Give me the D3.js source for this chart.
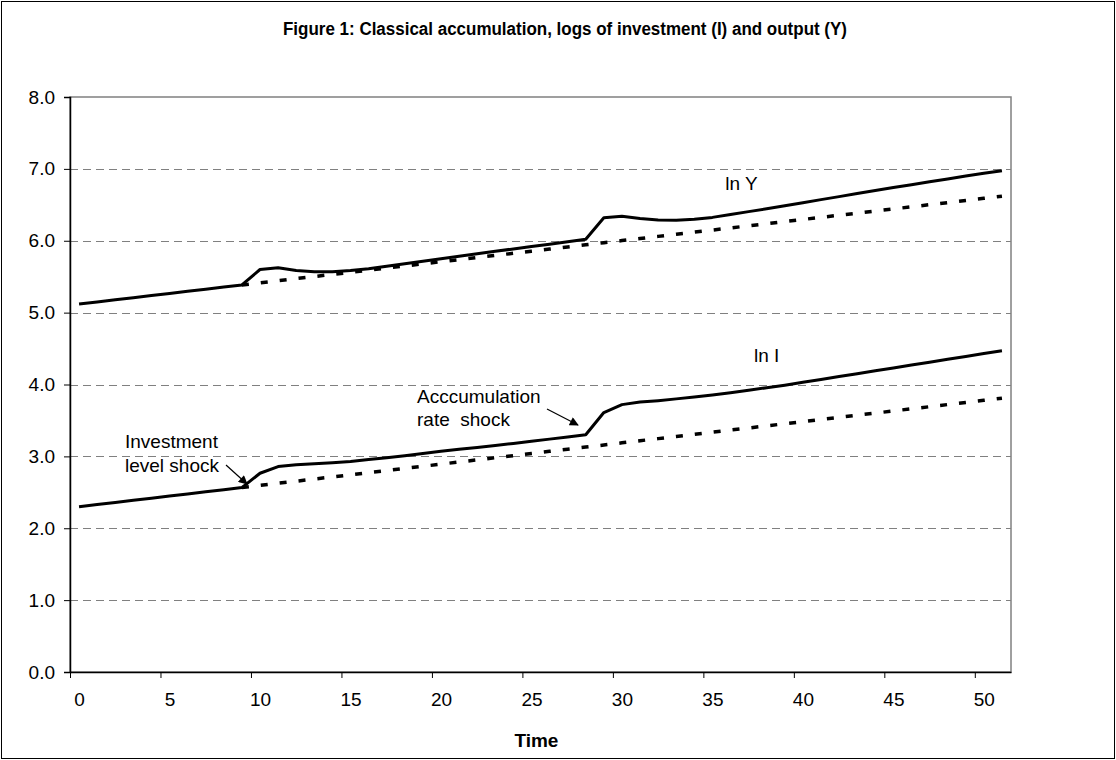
<!DOCTYPE html>
<html>
<head>
<meta charset="utf-8">
<script src="https://cdn.jsdelivr.net/npm/d3@7"></script>
<style>
  html, body { margin: 0; padding: 0; background: #fff; }
  svg { display: block; }
  text { font-family: "Liberation Sans", Arial, sans-serif; fill: #000; }
</style>
</head>
<body>
<svg id="chart" width="1116" height="760"></svg>
<script>
// ---- data ----
const time = [0,1,2,3,4,5,6,7,8,9,10,11,12,13,14,15,16,17,18,19,20,21,22,23,24,25,
              26,27,28,29,30,31,32,33,34,35,36,37,38,39,40,41,42,43,44,45,46,47,48,49,50,51];

const lnY = [5.120,5.149,5.179,5.208,5.238,5.267,5.296,5.326,5.355,5.385,
             5.600,5.625,5.585,5.570,5.568,5.585,5.612,5.645,5.680,5.715,
             5.750,5.785,5.820,5.853,5.886,5.919,5.952,5.985,6.020,6.320,
             6.340,6.310,6.288,6.285,6.298,6.325,6.365,6.405,6.445,6.487,
             6.530,6.572,6.614,6.656,6.698,6.740,6.780,6.820,6.860,6.900,
             6.940,6.975];

const lnYbase = [5.120,5.149,5.179,5.208,5.238,5.267,5.296,5.326,5.355,5.385,
                 5.414,5.443,5.473,5.502,5.532,5.561,5.590,5.620,5.649,5.679,
                 5.708,5.737,5.767,5.796,5.826,5.855,5.884,5.914,5.943,5.973,
                 6.002,6.031,6.061,6.090,6.120,6.149,6.178,6.208,6.237,6.267,
                 6.296,6.325,6.355,6.384,6.414,6.443,6.472,6.502,6.531,6.561,
                 6.590,6.619];

const lnI = [2.300,2.330,2.359,2.389,2.418,2.448,2.478,2.507,2.537,2.566,
             2.765,2.858,2.882,2.898,2.912,2.930,2.955,2.982,3.010,3.040,
             3.070,3.100,3.125,3.152,3.180,3.210,3.240,3.270,3.300,3.610,
             3.720,3.755,3.775,3.800,3.825,3.855,3.885,3.920,3.955,3.990,
             4.030,4.070,4.110,4.150,4.190,4.230,4.270,4.310,4.350,4.390,
             4.430,4.470];

const lnIbase = [2.300,2.330,2.359,2.389,2.418,2.448,2.478,2.507,2.537,2.566,
                 2.596,2.626,2.655,2.685,2.714,2.744,2.774,2.803,2.833,2.862,
                 2.892,2.922,2.951,2.981,3.010,3.040,3.070,3.099,3.129,3.158,
                 3.188,3.218,3.247,3.277,3.306,3.336,3.366,3.395,3.425,3.454,
                 3.484,3.514,3.543,3.573,3.602,3.632,3.662,3.691,3.721,3.750,
                 3.780,3.810];

const xTickLabels = [0,5,10,15,20,25,30,35,40,45,50];
const yTicks = [0,1,2,3,4,5,6,7,8];

const title = "Figure 1: Classical accumulation, logs of investment (I) and output (Y)";
const xTitle = "Time";
const seriesLabels = [
  {text: "ln Y", t: 36.6, v: 6.71},
  {text: "ln I", t: 38.0, v: 4.32}
];
const shockStart = 9; // counterfactual drawn from the shock onward

// ---- layout ----
const W = 1116, H = 760;
const plot = {left: 70, right: 1011, top: 97, bottom: 672};
const FS = 19;

const svg = d3.select("#chart");

// outer frame
svg.append("rect")
  .attr("x", 1.5).attr("y", 1.5).attr("width", W - 3).attr("height", H - 3)
  .attr("fill", "#fff").attr("stroke", "#000").attr("stroke-width", 1);

const x = d3.scaleLinear().domain([time[0] - 0.5, time[time.length - 1] + 0.5])
  .range([plot.left, plot.right]);
const y = d3.scaleLinear().domain([0, 8]).range([plot.bottom, plot.top]);

// title
svg.append("text")
  .attr("x", 565).attr("y", 35)
  .attr("text-anchor", "middle")
  .attr("font-size", 18).attr("font-weight", "bold")
  .attr("textLength", 564).attr("lengthAdjust", "spacingAndGlyphs")
  .text(title);

// plot area frame (gray top/right)
svg.append("rect")
  .attr("x", plot.left).attr("y", plot.top)
  .attr("width", plot.right - plot.left).attr("height", plot.bottom - plot.top)
  .attr("fill", "none").attr("stroke", "#808080").attr("stroke-width", 1.5);

// gridlines
svg.append("g")
  .selectAll("line")
  .data(yTicks.filter(d => d > 0 && d < 8))
  .join("line")
  .attr("x1", plot.left).attr("x2", plot.right)
  .attr("y1", d => Math.round(y(d)) + 0.5).attr("y2", d => Math.round(y(d)) + 0.5)
  .attr("stroke", "#808080").attr("stroke-width", 1.2)
  .attr("stroke-dasharray", "8,5");

// y axis
const yAxis = svg.append("g")
  .attr("transform", `translate(${plot.left},0)`)
  .call(d3.axisLeft(y).tickValues(yTicks).tickFormat(d3.format(".1f")).tickSize(6).tickPadding(9));
yAxis.select(".domain").attr("stroke", "#000").attr("stroke-width", 1.5);
yAxis.selectAll(".tick line").attr("stroke", "#000");
yAxis.selectAll("text").attr("font-size", FS).attr("font-family", "Liberation Sans, Arial, sans-serif")
  .attr("fill", "#000");

// x axis: tick marks at category boundaries every 5, labels at category centres
const boundaries = xTickLabels.map(d => d - 0.5);
const xAxisTicks = svg.append("g")
  .attr("transform", `translate(0,${plot.bottom})`)
  .call(d3.axisBottom(x).tickValues(boundaries).tickFormat("").tickSize(6).tickSizeOuter(0));
xAxisTicks.select(".domain").attr("stroke", "#000").attr("stroke-width", 1.5);
xAxisTicks.selectAll(".tick line").attr("stroke", "#000");

const xAxisLabels = svg.append("g")
  .attr("transform", `translate(0,${plot.bottom})`)
  .call(d3.axisBottom(x).tickValues(xTickLabels).tickFormat(d3.format("d")).tickSize(0).tickPadding(21));
xAxisLabels.select(".domain").remove();
xAxisLabels.selectAll("text").attr("font-size", FS).attr("font-family", "Liberation Sans, Arial, sans-serif")
  .attr("fill", "#000");

// x title
svg.append("text")
  .attr("x", x(25) + 5).attr("y", 747)
  .attr("text-anchor", "middle")
  .attr("font-size", FS).attr("font-weight", "bold")
  .text(xTitle);

// lines
const lineGen = d3.line().x((d, i) => x(time[i])).y(d => y(d));
const dashedGen = d3.line().defined((d, i) => time[i] >= shockStart).x((d, i) => x(time[i])).y(d => y(d));

[lnYbase, lnIbase].forEach(s => {
  svg.append("path").datum(s)
    .attr("d", dashedGen)
    .attr("fill", "none").attr("stroke", "#000").attr("stroke-width", 3.5)
    .attr("stroke-dasharray", "7,12");
});
[lnY, lnI].forEach(s => {
  svg.append("path").datum(s)
    .attr("d", lineGen)
    .attr("fill", "none").attr("stroke", "#000").attr("stroke-width", 3)
    .attr("stroke-linejoin", "round");
});

// series labels
seriesLabels.forEach(l => {
  svg.append("text")
    .attr("x", x(l.t)).attr("y", y(l.v))
    .attr("text-anchor", "middle").attr("font-size", FS)
    .text(l.text);
});

// annotations
const defs = svg.append("defs");
defs.append("marker")
  .attr("id", "arrow").attr("viewBox", "0 0 10 10")
  .attr("refX", 9).attr("refY", 5)
  .attr("markerWidth", 10).attr("markerHeight", 9)
  .attr("markerUnits", "userSpaceOnUse")
  .attr("orient", "auto")
  .append("path").attr("d", "M0,0 L10,5 L0,10 z").attr("fill", "#000");

const annotations = [
  {lines: ["Investment", "level shock"], tx: 125, ty: [448, 472], ax1: 226, ay1: 465, ax2: 247, ay2: 484},
  {lines: ["Acccumulation", "rate  shock"], tx: 417, ty: [403, 426], ax1: 547, ay1: 409, ax2: 578, ay2: 425}
];
annotations.forEach(a => {
  a.lines.forEach((t, i) => {
    svg.append("text").attr("x", a.tx).attr("y", a.ty[i])
      .attr("font-size", FS).attr("xml:space", "preserve").style("white-space", "pre").text(t);
  });
  svg.append("line")
    .attr("x1", a.ax1).attr("y1", a.ay1).attr("x2", a.ax2).attr("y2", a.ay2)
    .attr("stroke", "#000").attr("stroke-width", 1.2)
    .attr("marker-end", "url(#arrow)");
});
</script>
</body>
</html>
